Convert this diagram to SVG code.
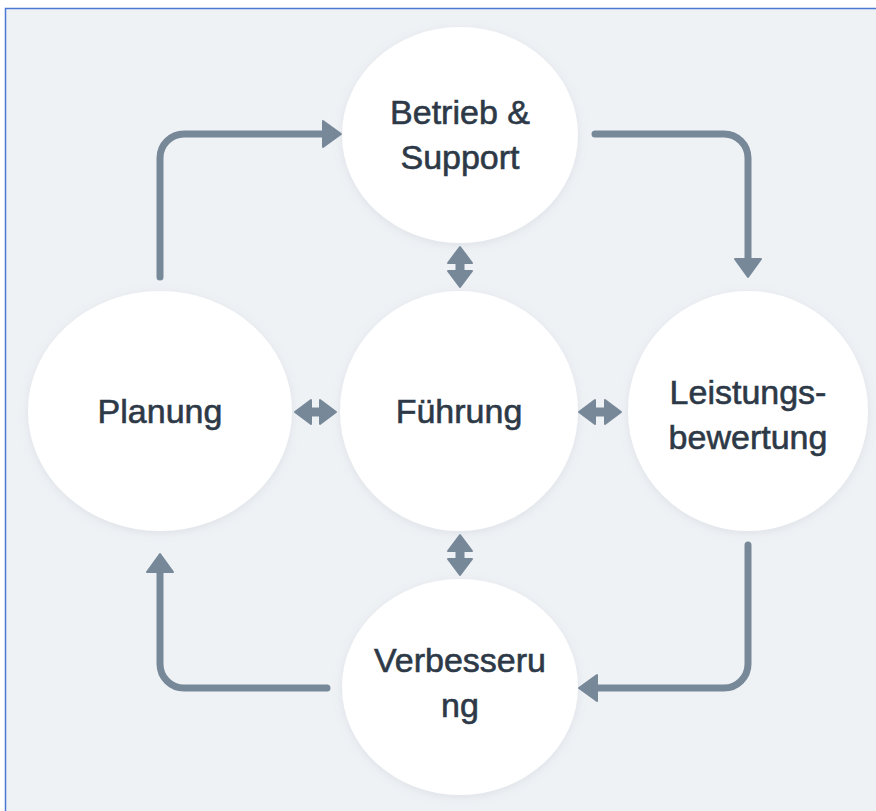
<svg xmlns="http://www.w3.org/2000/svg" width="876" height="811" viewBox="0 0 876 811">
<defs>
<style>
.node{fill:#ffffff;filter:url(#sh);}
.lbl{font-family:"Liberation Sans",Arial,sans-serif;font-size:34px;fill:#2d3947;stroke:#2d3947;stroke-width:0.6px;text-anchor:middle;}
.loop{fill:none;stroke:#778899;stroke-width:7;stroke-linecap:round;stroke-linejoin:round;}
.dbl{fill:none;stroke:#778899;stroke-width:9;}
</style>
<filter id="sh" x="-20%" y="-20%" width="140%" height="140%">
<feDropShadow dx="0" dy="2" stdDeviation="5" flood-color="#7a8a9a" flood-opacity="0.16"/>
</filter>
<marker id="ah" markerUnits="userSpaceOnUse" markerWidth="22" markerHeight="30" refX="1" refY="15" orient="auto" overflow="visible">
<path d="M1,2 L19,15 L1,28 Z" fill="#778899" stroke="#778899" stroke-width="2" stroke-linejoin="round"/>
</marker>
<marker id="dh" markerUnits="userSpaceOnUse" markerWidth="20" markerHeight="28" refX="1" refY="13" orient="auto-start-reverse" overflow="visible">
<path d="M1,1 L17,13 L1,25 Z" fill="#778899" stroke="#778899" stroke-width="2" stroke-linejoin="round"/>
</marker>
</defs>
<rect x="0" y="0" width="876" height="811" fill="#ffffff"/>
<rect x="5.5" y="8.5" width="880" height="820" fill="#eff2f5" stroke="#4a78d4" stroke-width="1.5"/>

<g id="connectors">
<path class="loop" d="M160,277 V158 A24,24 0 0 1 184,134 H323" marker-end="url(#ah)"/>
<path class="loop" d="M595,134 H724 A24,24 0 0 1 748,158 V259" marker-end="url(#ah)"/>
<path class="loop" d="M748,545 V664 A24,24 0 0 1 724,688 H597" marker-end="url(#ah)"/>
<path class="loop" d="M327,688 H184 A24,24 0 0 1 160,664 V572" marker-end="url(#ah)"/>
<line class="dbl" x1="460" y1="263" x2="460" y2="271" marker-start="url(#dh)" marker-end="url(#dh)"/>
<line class="dbl" x1="460" y1="551" x2="460" y2="559" marker-start="url(#dh)" marker-end="url(#dh)"/>
<line class="dbl" x1="311" y1="412" x2="320" y2="412" marker-start="url(#dh)" marker-end="url(#dh)"/>
<line class="dbl" x1="595" y1="412" x2="605" y2="412" marker-start="url(#dh)" marker-end="url(#dh)"/>
</g>

<g id="node-betrieb">
<ellipse class="node" cx="460" cy="135" rx="118" ry="108"/>
<text class="lbl" x="460" y="124">Betrieb &amp;</text>
<text class="lbl" x="460" y="169">Support</text>
</g>
<g id="node-planung">
<ellipse class="node" cx="160" cy="411" rx="132" ry="120"/>
<text class="lbl" x="160" y="423">Planung</text>
</g>
<g id="node-fuehrung">
<ellipse class="node" cx="459" cy="411" rx="119" ry="120"/>
<text class="lbl" x="459" y="423">Führung</text>
</g>
<g id="node-leistung">
<ellipse class="node" cx="748" cy="411" rx="120" ry="120"/>
<text class="lbl" x="748" y="404">Leistungs-</text>
<text class="lbl" x="748" y="449">bewertung</text>
</g>
<g id="node-verbesserung">
<ellipse class="node" cx="460" cy="687" rx="118" ry="108"/>
<text class="lbl" x="460" y="672">Verbesseru</text>
<text class="lbl" x="460" y="717">ng</text>
</g>
</svg>
